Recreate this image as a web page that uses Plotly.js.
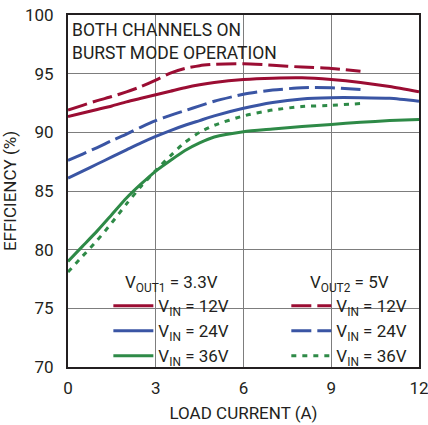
<!DOCTYPE html>
<html>
<head>
<meta charset="utf-8">
<script src="https://cdn.plot.ly/plotly-3.0.1.min.js"></script>
<style>html,body{margin:0;padding:0;background:#fff}#chart{width:428px;height:425px}</style>
</head>
<body>
<div id="chart"></div>
<script>
// Load current (A) and efficiency (%)
const xSolid = [0, 0.5, 1, 1.5, 2, 2.5, 3, 3.5, 4, 4.5, 5, 6, 7, 8, 9, 10, 11, 12];
const xDash  = [0, 0.5, 1, 1.5, 2, 2.5, 3, 3.5, 4, 4.5, 5, 6, 7, 8, 9, 10];

// VOUT1 = 3.3V (solid)
const eff33_12 = [91.35, 91.65, 91.95, 92.25, 92.6, 92.9, 93.2, 93.5, 93.8, 94.05, 94.25, 94.5, 94.62, 94.65, 94.5, 94.25, 93.9, 93.45];
const eff33_24 = [86.1, 86.7, 87.3, 87.9, 88.5, 89.1, 89.65, 90.15, 90.6, 91.0, 91.4, 92.05, 92.55, 92.85, 92.95, 92.95, 92.9, 92.65];
const eff33_36 = [79.0, 80.3, 81.6, 83.0, 84.4, 85.6, 86.7, 87.6, 88.45, 89.1, 89.6, 90.05, 90.28, 90.5, 90.67, 90.86, 91.0, 91.1];

// VOUT2 = 5V (dashed / dotted)
const eff5_12 = [91.9, 92.3, 92.7, 93.05, 93.45, 93.9, 94.45, 95.05, 95.45, 95.68, 95.8, 95.85, 95.72, 95.56, 95.45, 95.2];
const eff5_24 = [87.6, 88.15, 88.7, 89.3, 89.85, 90.45, 91.0, 91.45, 91.85, 92.25, 92.65, 93.25, 93.6, 93.8, 93.8, 93.65];
const eff5_36 = [78.1, 79.45, 80.8, 82.3, 83.9, 85.4, 86.75, 88.0, 89.15, 90.0, 90.6, 91.4, 91.9, 92.2, 92.3, 92.45];

const seriesNames = ['V<sub>IN</sub> = 12V', 'V<sub>IN</sub> = 24V', 'V<sub>IN</sub> = 36V'];
const legendTitles = ['V<sub>OUT1</sub> = 3.3V', 'V<sub>OUT2</sub> = 5V'];
const xTicks = [0, 3, 6, 9, 12];
const yTicks = [70, 75, 80, 85, 90, 95, 100];

const colors = ['#9b0d33', '#3a55a4', '#2e8a47'];
const FONT = 'Roboto, "Liberation Sans", Arial, sans-serif';

function tr(x, y, name, color, dash, legend) {
  return {
    x: x, y: y, name: name, type: 'scatter', mode: 'lines',
    line: {color: color, width: 3, dash: dash, shape: 'spline', smoothing: 0.6},
    legend: legend, hoverinfo: 'skip'
  };
}

const data = [
  tr(xSolid, eff33_12, seriesNames[0], colors[0], 'solid', 'legend'),
  tr(xSolid, eff33_24, seriesNames[1], colors[1], 'solid', 'legend'),
  tr(xSolid, eff33_36, seriesNames[2], colors[2], 'solid', 'legend'),
  tr(xDash, eff5_12, seriesNames[0], colors[0], '20px,6px', 'legend2'),
  tr(xDash, eff5_24, seriesNames[1], colors[1], '20px,6px', 'legend2'),
  tr(xDash, eff5_36, seriesNames[2], colors[2], '5px,6px', 'legend2')
];

const legendBase = {
  bgcolor: 'rgba(0,0,0,0)', borderwidth: 0,
  font: {family: FONT, size: 17, color: '#231f20'},
  itemwidth: 40, tracegroupgap: 0, yanchor: 'top', xanchor: 'left',
  traceorder: 'normal'
};

const layout = {
  width: 428, height: 425,
  margin: {l: 68, r: 9, t: 15, b: 58, pad: 0},
  paper_bgcolor: '#fff', plot_bgcolor: '#fff',
  font: {family: FONT, size: 17, color: '#231f20'},
  showlegend: true,
  xaxis: {
    range: [0, 12], tickvals: xTicks, ticktext: xTicks.map(String),
    showgrid: true, gridcolor: '#7d7d7d', gridwidth: 1, zeroline: false,
    showline: true, mirror: true, linecolor: '#231f20', linewidth: 2,
    ticks: '', ticklabelstandoff: 5, ticklabeloverflow: 'allow',
    tickfont: {family: FONT, size: 17, color: '#231f20'},
    title: {text: 'LOAD CURRENT (A)', font: {family: FONT, size: 17, color: '#231f20'}, standoff: 10}
  },
  yaxis: {
    range: [70, 100], tickvals: yTicks, ticktext: yTicks.map(String),
    showgrid: true, gridcolor: '#7d7d7d', gridwidth: 1, zeroline: false,
    showline: true, mirror: true, linecolor: '#231f20', linewidth: 2,
    ticks: '', ticklabelstandoff: 9, ticklabeloverflow: 'allow',
    tickfont: {family: FONT, size: 17, color: '#231f20'},
    title: {text: 'EFFICIENCY (%)', font: {family: FONT, size: 17, color: '#231f20'}, standoff: 5}
  },
  legend: Object.assign({}, legendBase, {x: 0.115, y: 0.287, title: {text: legendTitles[0], side: 'top center', font: {family: FONT, size: 17, color: '#231f20'}}}),
  legend2: Object.assign({}, legendBase, {x: 0.622, y: 0.287, title: {text: legendTitles[1], side: 'top center', font: {family: FONT, size: 17, color: '#231f20'}}}),
  shapes: [
    {type: 'rect', xref: 'paper', yref: 'paper', x0: 0.004, x1: 0.58, y0: 0.864, y1: 0.996, fillcolor: '#fff', line: {width: 0}, layer: 'between'},
    {type: 'rect', xref: 'paper', yref: 'paper', x0: 0.103, x1: 0.98, y0: 0.003, y1: 0.198, fillcolor: '#fff', line: {width: 0}, layer: 'between'},
    {type: 'rect', xref: 'paper', yref: 'paper', x0: 0.15, x1: 0.48, y0: 0.003, y1: 0.272, fillcolor: '#fff', line: {width: 0}, layer: 'between'},
    {type: 'rect', xref: 'paper', yref: 'paper', x0: 0.66, x1: 0.95, y0: 0.003, y1: 0.277, fillcolor: '#fff', line: {width: 0}, layer: 'between'}
  ],
  annotations: [
    {xref: 'paper', yref: 'paper', x: 0.006, y: 0.992, xanchor: 'left', yanchor: 'top', align: 'left', showarrow: false,
     text: 'BOTH CHANNELS ON<br>BURST MODE OPERATION', font: {family: FONT, size: 17.5, color: '#231f20'}}
  ]
};

Plotly.newPlot('chart', data, layout, {displayModeBar: false, staticPlot: true});
</script>
</body>
</html>
